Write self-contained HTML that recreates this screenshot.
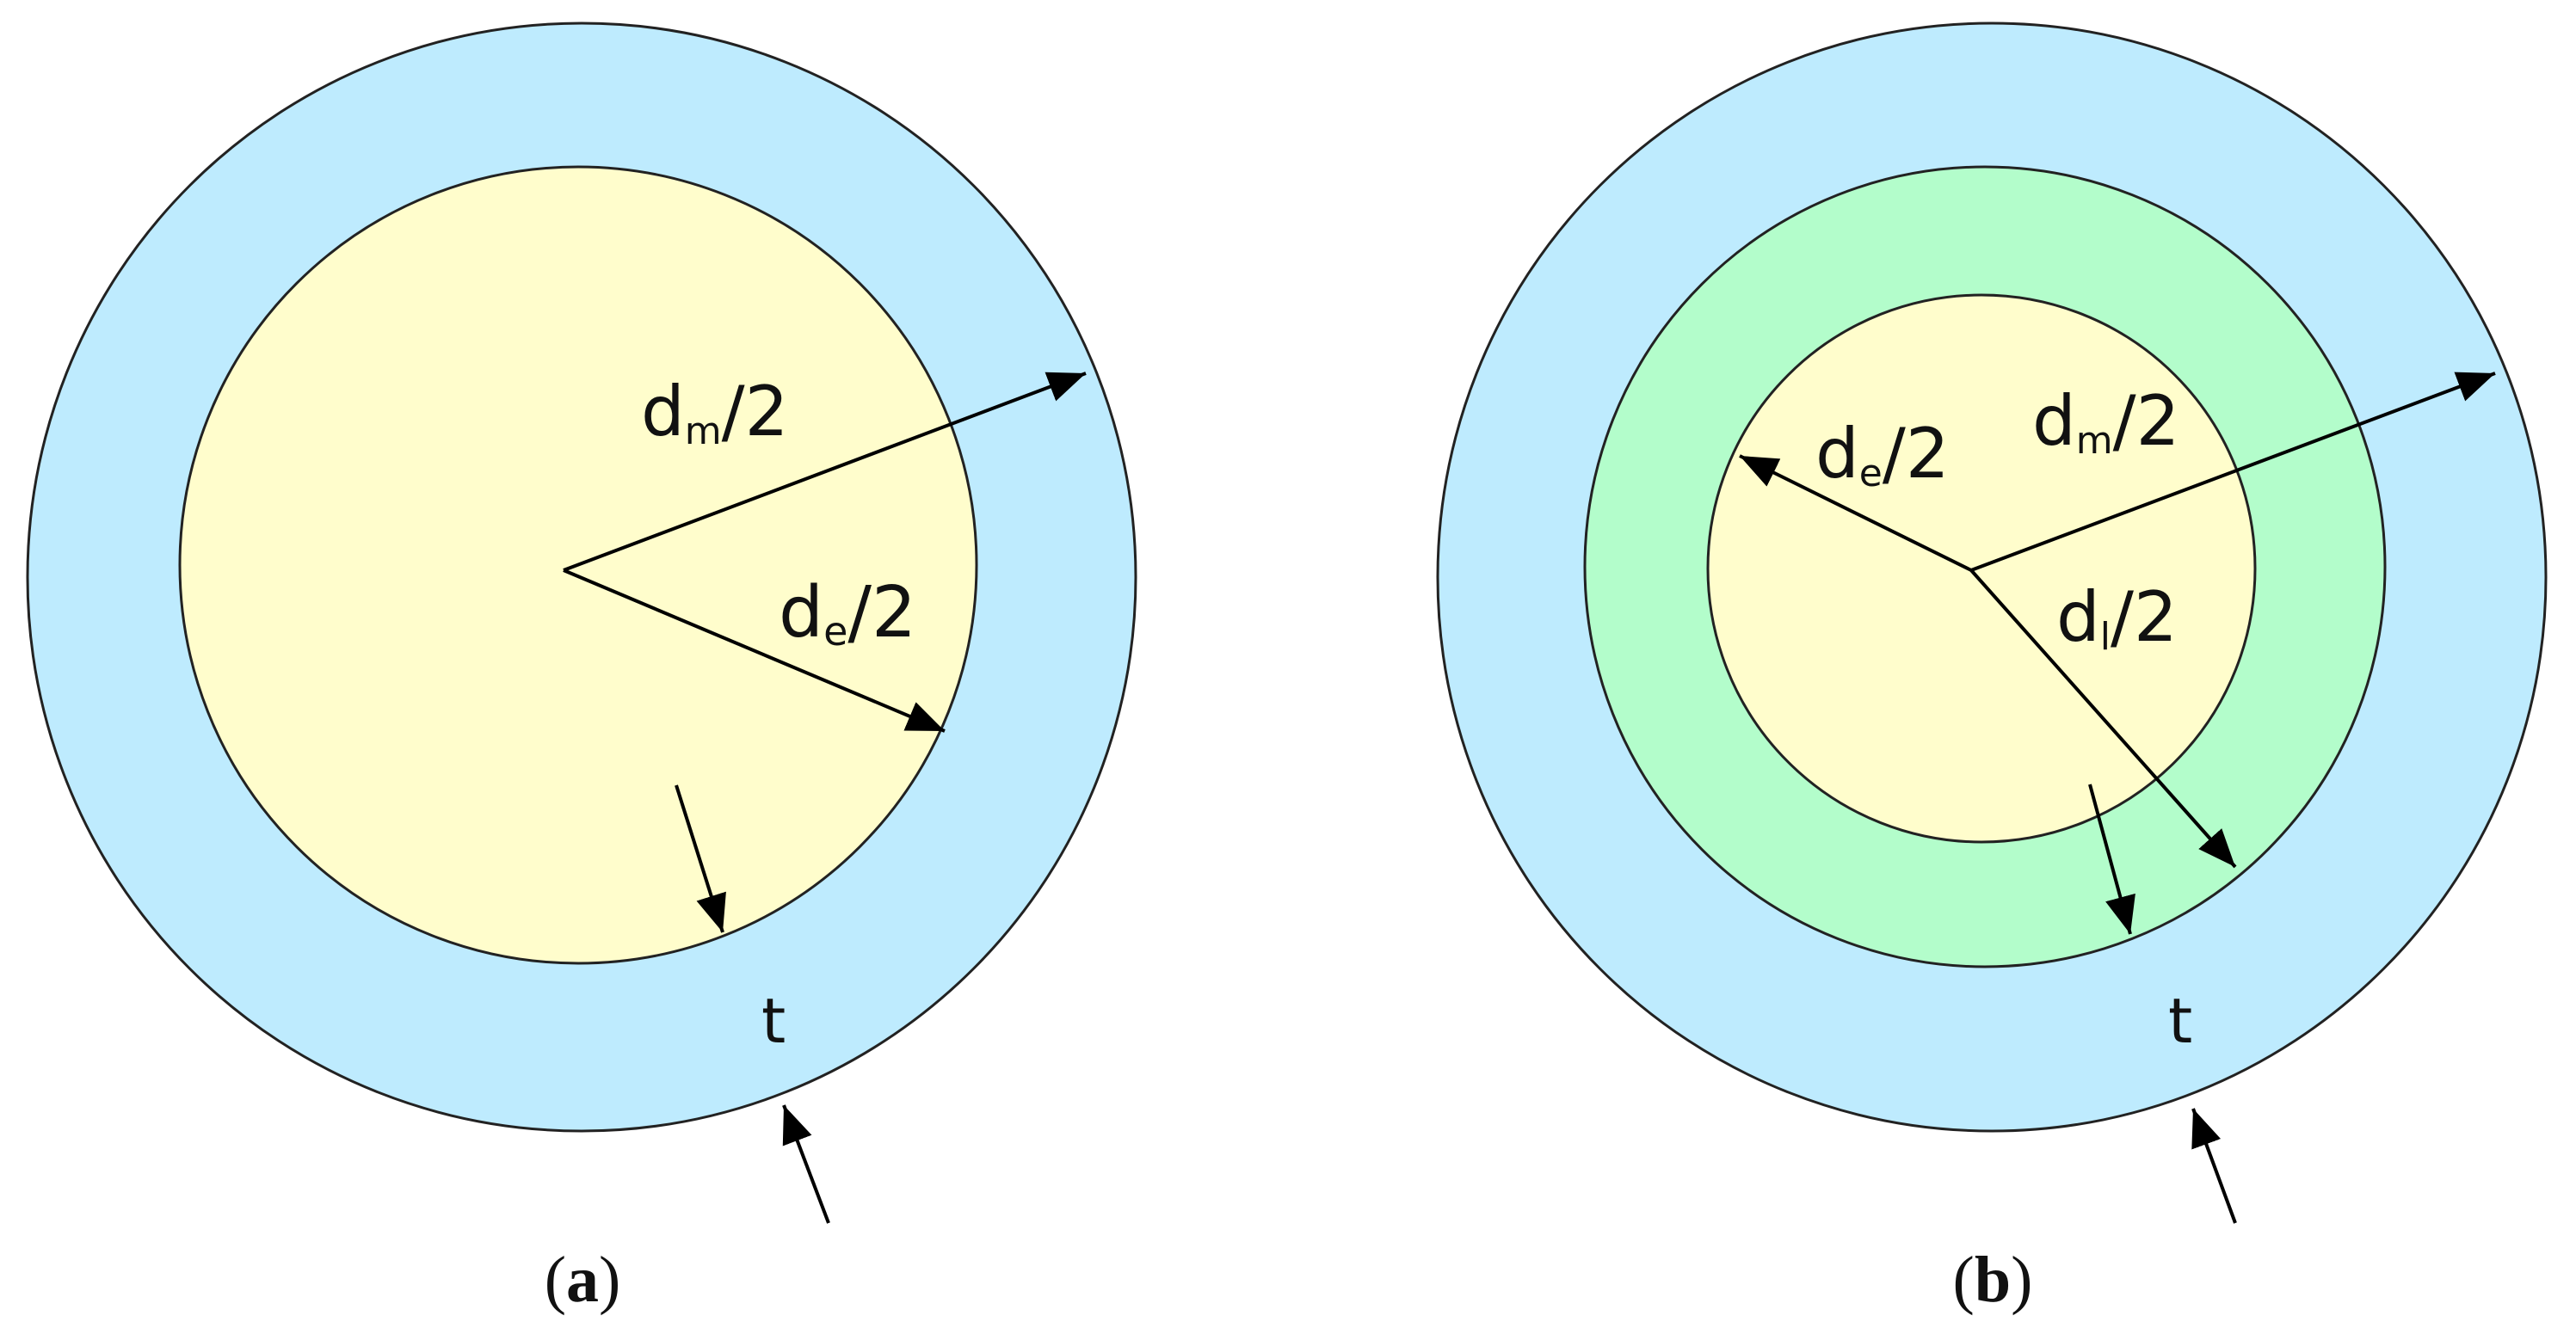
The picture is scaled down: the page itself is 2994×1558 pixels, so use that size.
<!DOCTYPE html>
<html><head><meta charset="utf-8"><style>
html,body{margin:0;padding:0;background:#fff;}
svg{display:block;}
text{font-family:"DejaVu Sans","Liberation Sans",sans-serif;fill:#111;}
</style></head><body>
<svg width="2994" height="1558" viewBox="0 0 2994 1558" xmlns="http://www.w3.org/2000/svg">
<defs>
<marker id="ah" markerUnits="userSpaceOnUse" markerWidth="46" markerHeight="38" refX="44" refY="18" orient="auto">
<path d="M0,0 L44,18 L0,36 Z" fill="#000"/>
</marker>
</defs>
<!-- (a) -->
<circle cx="676" cy="671" r="644" fill="#BEEBFE" stroke="#222" stroke-width="3"/>
<circle cx="672" cy="657" r="463" fill="#FFFDCC" stroke="#222" stroke-width="3"/>
<g stroke="#000" stroke-width="4" fill="none">
<line x1="655" y1="663" x2="1262" y2="434" marker-end="url(#ah)"/>
<line x1="655" y1="663" x2="1098" y2="850" marker-end="url(#ah)"/>
<line x1="786" y1="913" x2="840" y2="1084" marker-end="url(#ah)"/>
<line x1="963" y1="1422" x2="911" y2="1285" marker-end="url(#ah)"/>
</g>
<text x="745" y="506" font-size="80">d<tspan font-size="44" dy="10">m</tspan><tspan dy="-10">/2</tspan></text>
<text x="905" y="740" font-size="82">d<tspan font-size="46" dy="10">e</tspan><tspan dy="-10">/2</tspan></text>
<text x="885" y="1212" font-size="72">t</text>
<text x="677" y="1513" font-size="76" text-anchor="middle" style="font-family:'Liberation Serif',serif">(<tspan font-weight="bold">a</tspan>)</text>

<!-- (b) -->
<circle cx="2315" cy="671" r="644" fill="#BEEBFE" stroke="#222" stroke-width="3"/>
<circle cx="2307" cy="659" r="465" fill="#B3FDCB" stroke="#222" stroke-width="3"/>
<circle cx="2303" cy="661" r="318" fill="#FFFDCC" stroke="#222" stroke-width="3"/>
<g stroke="#000" stroke-width="4" fill="none">
<line x1="2291" y1="663" x2="2900" y2="434" marker-end="url(#ah)"/>
<line x1="2291" y1="663" x2="2022" y2="530" marker-end="url(#ah)"/>
<line x1="2291" y1="663" x2="2598" y2="1008" marker-end="url(#ah)"/>
<line x1="2429" y1="912" x2="2476" y2="1086" marker-end="url(#ah)"/>
<line x1="2598" y1="1422" x2="2549" y2="1289" marker-end="url(#ah)"/>
</g>
<text x="2110" y="555" font-size="80">d<tspan font-size="44" dy="10">e</tspan><tspan dy="-10">/2</tspan></text>
<text x="2362" y="517" font-size="80">d<tspan font-size="44" dy="10">m</tspan><tspan dy="-10">/2</tspan></text>
<text x="2390" y="745" font-size="80">d<tspan font-size="44" dy="10">l</tspan><tspan dy="-10">/2</tspan></text>
<text x="2520" y="1212" font-size="72">t</text>
<text x="2316" y="1513" font-size="76" text-anchor="middle" style="font-family:'Liberation Serif',serif">(<tspan font-weight="bold">b</tspan>)</text>
</svg>
</body></html>
